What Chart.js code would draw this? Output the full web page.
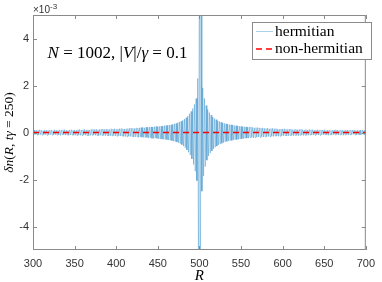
<!DOCTYPE html>
<html>
<head>
<meta charset="utf-8">
<script src="https://cdn.jsdelivr.net/npm/chart.js@4.4.1/dist/chart.umd.min.js"></script>
<style>
  html, body { margin: 0; padding: 0; background: #fff; }
</style>
</head>
<body>
<canvas id="myChart" width="382" height="282"></canvas>
<script>
// Asse R (siti 300..700) e tick
const rMin = 300, rMax = 700;
const xTicks = [300, 350, 400, 450, 500, 550, 600, 650, 700];
const yTicks = [-4, -2, 0, 2, 4];   // in unita' di 1e-3

// delta n(R, t*gamma = 250), hermitiano, in unita' di 1e-3
const hermitian = [
  0.09, -0.10, 0.11, -0.08, 0.10, -0.11, 0.09, -0.10, 0.12, -0.09, // 300
  0.10, -0.11, 0.08, -0.10, 0.11, -0.09, 0.10, -0.12, 0.09, -0.10, // 310
  0.11, -0.09, 0.10, -0.11, 0.08, -0.10, 0.12, -0.09, 0.10, -0.11, // 320
  0.09, -0.10, 0.11, -0.12, 0.10, -0.09, 0.11, -0.10, 0.12, -0.11, // 330
  0.10, -0.11, 0.09, -0.12, 0.11, -0.10, 0.12, -0.11, 0.10, -0.12, // 340
  0.11, -0.12, 0.10, -0.13, 0.12, -0.11, 0.13, -0.12, 0.11, -0.13, // 350
  0.12, -0.11, 0.13, -0.12, 0.11, -0.13, 0.12, -0.14, 0.11, -0.12, // 360
  0.13, -0.12, 0.14, -0.11, 0.13, -0.12, 0.14, -0.13, 0.12, -0.14, // 370
  0.13, -0.12, 0.14, -0.13, 0.15, -0.12, 0.13, -0.14, 0.15, -0.13, // 380
  0.14, -0.15, 0.13, -0.14, 0.16, -0.14, 0.15, -0.13, 0.16, -0.15, // 390
  0.14, -0.16, 0.15, -0.14, 0.16, -0.15, 0.17, -0.15, 0.16, -0.17, // 400
  0.15, -0.17, 0.16, -0.18, 0.17, -0.16, 0.18, -0.17, 0.19, -0.17, // 410
  0.18, -0.19, 0.17, -0.19, 0.20, -0.18, 0.19, -0.21, 0.20, -0.19, // 420
  0.21, -0.20, 0.22, -0.21, 0.20, -0.22, 0.23, -0.21, 0.22, -0.24, // 430
  0.23, -0.22, 0.24, -0.25, 0.23, -0.26, 0.25, -0.24, 0.26, -0.25, // 440
  0.25, -0.27, 0.26, -0.28, 0.27, -0.28, 0.28, -0.29, 0.29, -0.30, // 450
  0.30, -0.31, 0.31, -0.32, 0.32, -0.33, 0.33, -0.35, 0.35, -0.37, // 460
  0.37, -0.39, 0.39, -0.41, 0.42, -0.44, 0.45, -0.48, 0.48, -0.52, // 470
  0.52, -0.58, 0.57, -0.65, 0.63, -0.74, 0.70, -0.84, 0.80, -0.96, // 480
  0.90, -1.12, 1.02, -1.36, 1.20, -1.65, 1.45, -2.05, 2.30, -6.80, // 490
  9.50, -9.20, 6.60, -2.50, 1.90, -1.85, 1.45, -1.45, 1.15, -1.18, // 500
  0.98, -1.00, 0.85, -0.88, 0.74, -0.78, 0.66, -0.70, 0.60, -0.63, // 510
  0.55, -0.58, 0.50, -0.53, 0.47, -0.49, 0.44, -0.46, 0.41, -0.43, // 520
  0.39, -0.40, 0.37, -0.38, 0.35, -0.36, 0.34, -0.35, 0.33, -0.34, // 530
  0.32, -0.31, 0.30, -0.31, 0.29, -0.30, 0.28, -0.29, 0.27, -0.28, // 540
  0.26, -0.27, 0.25, -0.26, 0.25, -0.25, 0.24, -0.24, 0.23, -0.24, // 550
  0.23, -0.22, 0.24, -0.21, 0.22, -0.23, 0.20, -0.22, 0.21, -0.20, // 560
  0.21, -0.19, 0.20, -0.21, 0.19, -0.18, 0.20, -0.19, 0.18, -0.19, // 570
  0.17, -0.18, 0.19, -0.17, 0.16, -0.18, 0.17, -0.16, 0.18, -0.17, // 580
  0.16, -0.15, 0.17, -0.16, 0.15, -0.16, 0.14, -0.16, 0.15, -0.14, // 590
  0.15, -0.14, 0.16, -0.13, 0.14, -0.15, 0.13, -0.14, 0.15, -0.13, // 600
  0.14, -0.13, 0.12, -0.14, 0.13, -0.12, 0.14, -0.13, 0.12, -0.14, // 610
  0.13, -0.12, 0.14, -0.11, 0.12, -0.13, 0.11, -0.12, 0.13, -0.12, // 620
  0.11, -0.12, 0.13, -0.11, 0.12, -0.10, 0.12, -0.11, 0.10, -0.12, // 630
  0.11, -0.10, 0.12, -0.11, 0.10, -0.12, 0.11, -0.09, 0.11, -0.10, // 640
  0.12, -0.10, 0.09, -0.11, 0.10, -0.12, 0.11, -0.10, 0.09, -0.11, // 650
  0.10, -0.09, 0.11, -0.10, 0.12, -0.09, 0.10, -0.11, 0.09, -0.10, // 660
  0.11, -0.09, 0.10, -0.12, 0.09, -0.10, 0.11, -0.09, 0.10, -0.11, // 670
  0.09, -0.10, 0.11, -0.09, 0.10, -0.08, 0.11, -0.10, 0.09, -0.11, // 680
  0.10, -0.09, 0.08, -0.10, 0.11, -0.09, 0.10, -0.08, 0.09, -0.10, // 690
  0.09                                                              // 700
];

// non-hermitiano: praticamente nullo su tutto l'intervallo
const nonHermR = [300, 700];
const nonHermitian = [0, 0];

const AXIS_COLOR = '#8a8a8a';
const TEXT_COLOR = '#333333';
const SERIF = '"Liberation Serif", "DejaVu Serif", serif';
const SANS = '"Liberation Sans", Arial, sans-serif';

// testo con pezzi in corsivo (stile LaTeX)
const drawRich = (ctx, pieces, x, y, size) => {
  const fontOf = p => `${p.it ? 'italic ' : ''}${size}px ${SERIF}`;
  let w = 0;
  pieces.forEach(p => { ctx.font = fontOf(p); w += ctx.measureText(p.t).width; });
  let cx = x - w / 2;
  ctx.textAlign = 'left';
  ctx.textBaseline = 'middle';
  pieces.forEach(p => {
    ctx.font = fontOf(p);
    ctx.fillText(p.t, cx, y);
    cx += ctx.measureText(p.t).width;
  });
};

// Cornice stile MATLAB, tick interni, testi e legenda
const matlabAxes = {
  id: 'matlabAxes',
  afterDatasetsDraw(chart) {
    const { ctx, chartArea: a, scales: { x, y } } = chart;
    ctx.save();
    ctx.strokeStyle = AXIS_COLOR;
    ctx.lineWidth = 1;
    ctx.strokeRect(a.left + 0.5, a.top + 0.5, a.right - a.left - 1, a.bottom - a.top - 1);

    const tl = 4;
    ctx.beginPath();
    xTicks.forEach(v => {
      const px = Math.round(x.getPixelForValue(v)) + 0.5;
      ctx.moveTo(px, a.bottom); ctx.lineTo(px, a.bottom - tl);
      ctx.moveTo(px, a.top); ctx.lineTo(px, a.top + tl);
    });
    yTicks.forEach(v => {
      const py = Math.round(y.getPixelForValue(v)) + 0.5;
      ctx.moveTo(a.left, py); ctx.lineTo(a.left + tl, py);
      ctx.moveTo(a.right, py); ctx.lineTo(a.right - tl, py);
    });
    ctx.stroke();

    // moltiplicatore x10^-3
    ctx.fillStyle = TEXT_COLOR;
    ctx.textAlign = 'left';
    ctx.textBaseline = 'alphabetic';
    ctx.font = `10px ${SANS}`;
    ctx.fillText('\u00d710', a.left, 13);
    const wm = ctx.measureText('\u00d710').width;
    ctx.font = `8px ${SANS}`;
    ctx.fillText('-3', a.left + wm, 9);

    // annotazione
    ctx.fillStyle = '#000';
    drawRich(ctx, [
      { t: 'N', it: true }, { t: ' = 1002, |' }, { t: 'V', it: true },
      { t: '|/' }, { t: '\u03b3', it: true }, { t: ' = 0.1' }
    ], 117.5, 54, 17);

    // titolo asse x
    drawRich(ctx, [{ t: 'R', it: true }], x.getPixelForValue(500), 276, 15);

    // titolo asse y
    ctx.save();
    ctx.translate(9, (a.top + a.bottom) / 2);
    ctx.rotate(-Math.PI / 2);
    drawRich(ctx, [
      { t: '\u03b4n', it: true }, { t: '(' }, { t: 'R', it: true }, { t: ', ' },
      { t: 't\u03b3', it: true }, { t: ' = 250)' }
    ], 0, 0, 13.5);
    ctx.restore();

    // legenda
    const lx = 252, ly = 22, lw = 119, lh = 37;
    ctx.fillStyle = '#fff';
    ctx.fillRect(lx, ly, lw, lh);
    ctx.strokeStyle = AXIS_COLOR;
    ctx.strokeRect(lx + 0.5, ly + 0.5, lw, lh);
    const ds = chart.data.datasets;
    [ds[0], ds[1]].forEach((d, i) => {
      const yy = 31.5 + i * 17.5;
      ctx.save();
      ctx.strokeStyle = d.borderColor;
      ctx.lineWidth = d.borderWidth;
      ctx.setLineDash(d.borderDash || []);
      ctx.beginPath();
      ctx.moveTo(256, yy); ctx.lineTo(273, yy);
      ctx.stroke();
      ctx.restore();
      ctx.fillStyle = '#000';
      ctx.font = `15.5px ${SERIF}`;
      ctx.textAlign = 'left';
      ctx.textBaseline = 'middle';
      ctx.fillText(d.label, 275, yy);
    });
    ctx.restore();
  }
};

const rValues = hermitian.map((_, i) => rMin + i);

new Chart('myChart', {
  type: 'line',
  data: {
    datasets: [{
      label: 'hermitian',
      data: rValues.map((r, i) => ({ x: r, y: hermitian[i] })),
      borderColor: 'rgba(0, 114, 189, 0.33)',
      borderWidth: 1,
      pointRadius: 0,
      tension: 0,
      order: 2,
    }, {
      label: 'non-hermitian',
      data: nonHermR.map((r, i) => ({ x: r, y: nonHermitian[i] })),
      borderColor: '#ff0000',
      borderWidth: 1.5,
      borderDash: [6, 4],
      pointRadius: 0,
      tension: 0,
      order: 1,
    }],
  },
  options: {
    responsive: false,
    animation: false,
    devicePixelRatio: 1,
    layout: { padding: { left: 0, right: 10, top: 15, bottom: 0 } },
    plugins: { legend: { display: false }, tooltip: { enabled: false } },
    scales: {
      x: {
        type: 'linear', min: rMin, max: rMax,
        afterBuildTicks: s => { s.ticks = xTicks.map(v => ({ value: v })); },
        afterFit: s => { s.height = 32; },
        grid: { display: false, drawTicks: false },
        border: { display: false },
        ticks: { font: { family: SANS, size: 11 }, color: TEXT_COLOR, padding: 7, maxRotation: 0, autoSkip: false },
      },
      y: {
        type: 'linear', min: -5, max: 5,
        afterBuildTicks: s => { s.ticks = yTicks.map(v => ({ value: v })); },
        afterFit: s => { s.width = 33; },
        grid: { display: false, drawTicks: false },
        border: { display: false },
        ticks: { font: { family: SANS, size: 11 }, color: TEXT_COLOR, padding: 4 },
      },
    },
  },
  plugins: [matlabAxes],
});
</script>
</body>
</html>
